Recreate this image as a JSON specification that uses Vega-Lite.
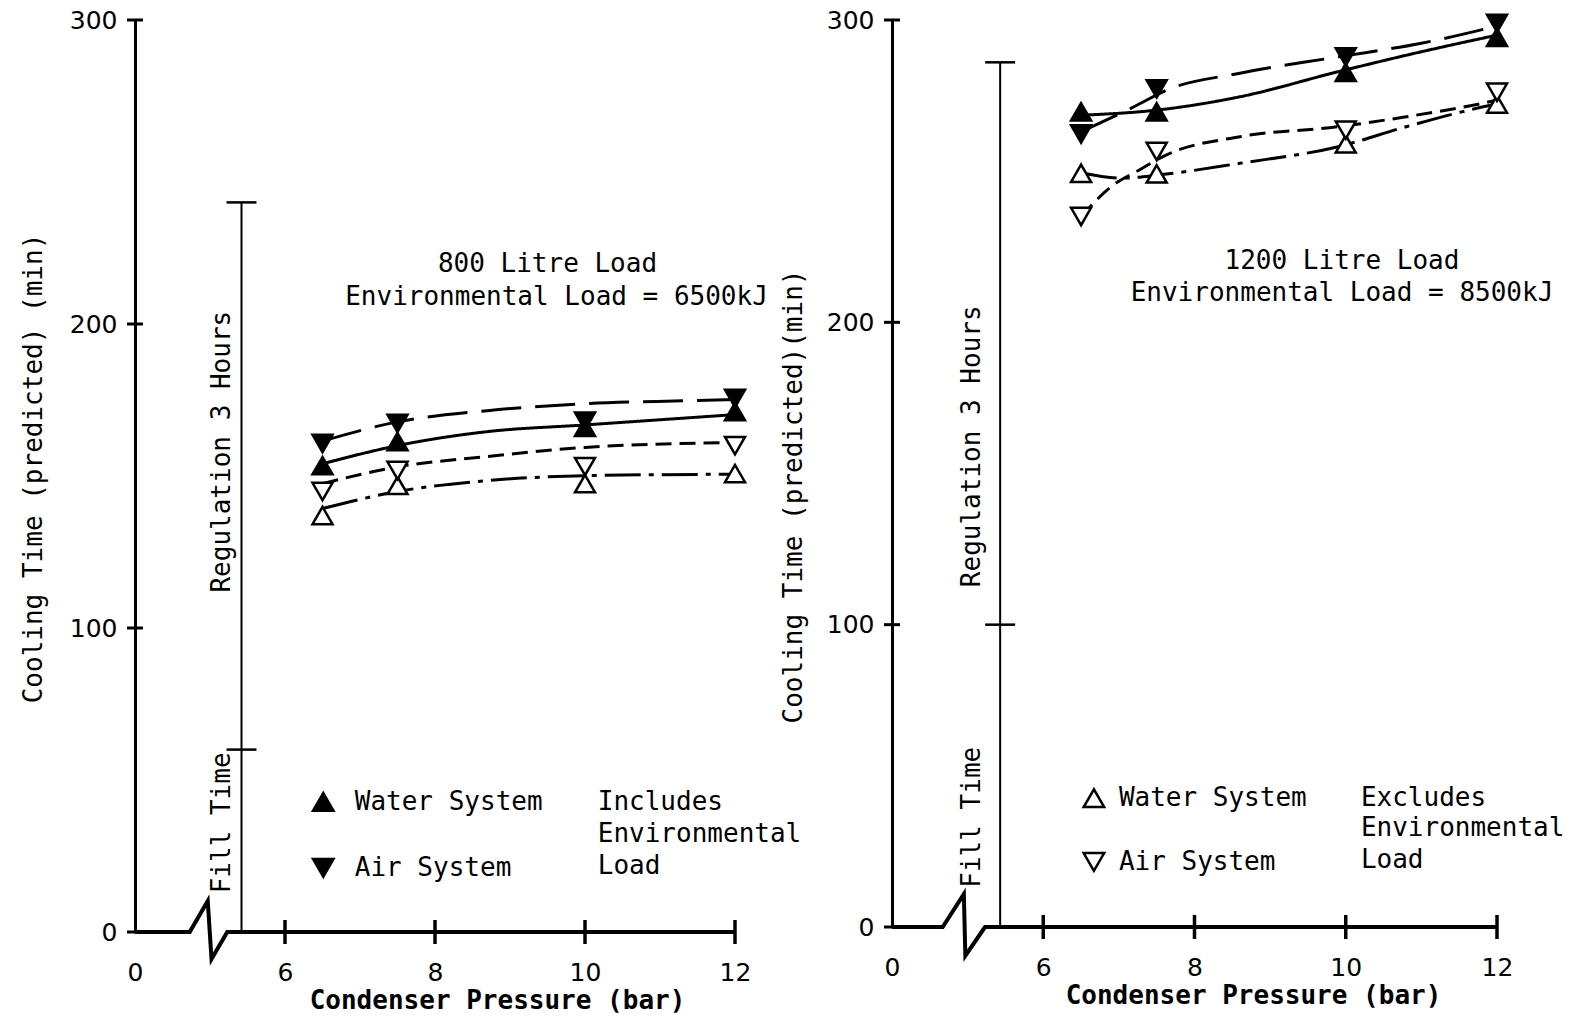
{
  "$schema": "https://vega.github.io/schema/vega-lite/v6.json",
  "background": "white",
  "padding": {"left": 20, "top": 8, "right": 5, "bottom": 0},
  "spacing": 157,
  "bounds": "flush",
  "config": {
    "view": {"stroke": null},
    "axis": {"grid": false, "labelColor": "black", "titleColor": "black"}
  },
  "datasets": {
    "curves": [
      {"panel": "L", "series": "Air incl", "p": 6.5, "t": 161.5},
      {"panel": "L", "series": "Air incl", "p": 7.5, "t": 167.8},
      {"panel": "L", "series": "Air incl", "p": 8.7, "t": 171.5},
      {"panel": "L", "series": "Air incl", "p": 10, "t": 173.8},
      {"panel": "L", "series": "Air incl", "p": 11.4, "t": 174.8},
      {"panel": "L", "series": "Air incl", "p": 12, "t": 175.2},
      {"panel": "L", "series": "Water incl", "p": 6.5, "t": 154},
      {"panel": "L", "series": "Water incl", "p": 7.5, "t": 160},
      {"panel": "L", "series": "Water incl", "p": 8.7, "t": 164.6},
      {"panel": "L", "series": "Water incl", "p": 10, "t": 166.8},
      {"panel": "L", "series": "Water incl", "p": 12, "t": 170.2},
      {"panel": "L", "series": "Air excl", "p": 6.5, "t": 147.5},
      {"panel": "L", "series": "Air excl", "p": 7.5, "t": 153},
      {"panel": "L", "series": "Air excl", "p": 8.7, "t": 156.4},
      {"panel": "L", "series": "Air excl", "p": 10, "t": 159.4},
      {"panel": "L", "series": "Air excl", "p": 12, "t": 161},
      {"panel": "L", "series": "Water excl", "p": 6.5, "t": 139.3},
      {"panel": "L", "series": "Water excl", "p": 7.5, "t": 144.9},
      {"panel": "L", "series": "Water excl", "p": 8.7, "t": 148.5},
      {"panel": "L", "series": "Water excl", "p": 10, "t": 150.1},
      {"panel": "L", "series": "Water excl", "p": 12, "t": 150.6},
      {"panel": "R", "series": "Air incl", "p": 6.5, "t": 263},
      {"panel": "R", "series": "Air incl", "p": 7.2, "t": 271.3},
      {"panel": "R", "series": "Air incl", "p": 7.63, "t": 276.8},
      {"panel": "R", "series": "Air incl", "p": 8.6, "t": 282.4},
      {"panel": "R", "series": "Air incl", "p": 9.9, "t": 287.8},
      {"panel": "R", "series": "Air incl", "p": 11, "t": 292.3},
      {"panel": "R", "series": "Air incl", "p": 12, "t": 298},
      {"panel": "R", "series": "Water incl", "p": 6.5, "t": 268.5},
      {"panel": "R", "series": "Water incl", "p": 7.5, "t": 270.2},
      {"panel": "R", "series": "Water incl", "p": 8.6, "t": 274.6},
      {"panel": "R", "series": "Water incl", "p": 9.9, "t": 282.9},
      {"panel": "R", "series": "Water incl", "p": 11, "t": 289.5},
      {"panel": "R", "series": "Water incl", "p": 12, "t": 295},
      {"panel": "R", "series": "Air excl", "p": 6.5, "t": 235},
      {"panel": "R", "series": "Air excl", "p": 6.9, "t": 244.9},
      {"panel": "R", "series": "Air excl", "p": 7.27, "t": 250.4},
      {"panel": "R", "series": "Air excl", "p": 7.63, "t": 255.4},
      {"panel": "R", "series": "Air excl", "p": 8.6, "t": 261.4},
      {"panel": "R", "series": "Air excl", "p": 9.9, "t": 264.7},
      {"panel": "R", "series": "Air excl", "p": 10.8, "t": 268},
      {"panel": "R", "series": "Air excl", "p": 11.7, "t": 271.9},
      {"panel": "R", "series": "Air excl", "p": 12, "t": 273.5},
      {"panel": "R", "series": "Water excl", "p": 6.5, "t": 249.5},
      {"panel": "R", "series": "Water excl", "p": 7.05, "t": 247.7},
      {"panel": "R", "series": "Water excl", "p": 7.54, "t": 248.8},
      {"panel": "R", "series": "Water excl", "p": 8.6, "t": 252.6},
      {"panel": "R", "series": "Water excl", "p": 9.9, "t": 258.1},
      {"panel": "R", "series": "Water excl", "p": 10.8, "t": 264.7},
      {"panel": "R", "series": "Water excl", "p": 11.9, "t": 271.7},
      {"panel": "R", "series": "Water excl", "p": 12, "t": 272.2}
    ],
    "points": [
      {"panel": "L", "series": "Water incl", "p": 6.5, "t": 153.4},
      {"panel": "L", "series": "Water incl", "p": 7.5, "t": 161.3},
      {"panel": "L", "series": "Water incl", "p": 10, "t": 166},
      {"panel": "L", "series": "Water incl", "p": 12, "t": 171.2},
      {"panel": "L", "series": "Air incl", "p": 6.5, "t": 160.7},
      {"panel": "L", "series": "Air incl", "p": 7.5, "t": 167.3},
      {"panel": "L", "series": "Air incl", "p": 10, "t": 168},
      {"panel": "L", "series": "Air incl", "p": 12, "t": 175.5},
      {"panel": "L", "series": "Water excl", "p": 6.5, "t": 137},
      {"panel": "L", "series": "Water excl", "p": 7.5, "t": 146.9},
      {"panel": "L", "series": "Water excl", "p": 10, "t": 147.5},
      {"panel": "L", "series": "Water excl", "p": 12, "t": 150.8},
      {"panel": "L", "series": "Air excl", "p": 6.5, "t": 144.9},
      {"panel": "L", "series": "Air excl", "p": 7.5, "t": 151.8},
      {"panel": "L", "series": "Air excl", "p": 10, "t": 153.1},
      {"panel": "L", "series": "Air excl", "p": 12, "t": 160},
      {"panel": "R", "series": "Water incl", "p": 6.5, "t": 269.6},
      {"panel": "R", "series": "Water incl", "p": 7.5, "t": 269.6},
      {"panel": "R", "series": "Water incl", "p": 10, "t": 282.7},
      {"panel": "R", "series": "Water incl", "p": 12, "t": 294.3},
      {"panel": "R", "series": "Air incl", "p": 6.5, "t": 262.3},
      {"panel": "R", "series": "Air incl", "p": 7.5, "t": 277.2},
      {"panel": "R", "series": "Air incl", "p": 10, "t": 287.8},
      {"panel": "R", "series": "Air incl", "p": 12, "t": 298.9},
      {"panel": "R", "series": "Water excl", "p": 6.5, "t": 249.3},
      {"panel": "R", "series": "Water excl", "p": 7.5, "t": 249.1},
      {"panel": "R", "series": "Water excl", "p": 10, "t": 259},
      {"panel": "R", "series": "Water excl", "p": 12, "t": 272.2},
      {"panel": "R", "series": "Air excl", "p": 6.5, "t": 235},
      {"panel": "R", "series": "Air excl", "p": 7.5, "t": 256.5},
      {"panel": "R", "series": "Air excl", "p": 10, "t": 263.6},
      {"panel": "R", "series": "Air excl", "p": 12, "t": 276.1}
    ],
    "zero": [
      {"panel": "L", "o": 1, "p": 4, "t": 0},
      {"panel": "L", "o": 2, "p": 4.73, "t": 0},
      {"panel": "L", "o": 3, "p": 4.97, "t": 10.2},
      {"panel": "L", "o": 4, "p": 5.02, "t": -8.9},
      {"panel": "L", "o": 5, "p": 5.23, "t": 0},
      {"panel": "L", "o": 6, "p": 12, "t": 0},
      {"panel": "R", "o": 1, "p": 4, "t": 0},
      {"panel": "R", "o": 2, "p": 4.67, "t": 0},
      {"panel": "R", "o": 3, "p": 4.95, "t": 10.9},
      {"panel": "R", "o": 4, "p": 4.97, "t": -9.5},
      {"panel": "R", "o": 5, "p": 5.23, "t": 0},
      {"panel": "R", "o": 6, "p": 12, "t": 0}
    ],
    "reg": [
      {"panel": "L", "p": 5.42, "t": 0, "t2": 240},
      {"panel": "R", "p": 5.43, "t": 0, "t2": 286}
    ],
    "regcaps": [
      {"panel": "L", "p": 5.42, "t": 60},
      {"panel": "L", "p": 5.42, "t": 240},
      {"panel": "R", "p": 5.43, "t": 100},
      {"panel": "R", "p": 5.43, "t": 286}
    ],
    "xticks": [
      {"p": 6, "t": 0}, {"p": 8, "t": 0}, {"p": 10, "t": 0}, {"p": 12, "t": 0}
    ],
    "yticks": [
      {"p": 4, "t": 0}, {"p": 4, "t": 100}, {"p": 4, "t": 200}, {"p": 4, "t": 300}
    ],
    "titles": [
      {"panel": "L", "p": 9.5, "t": 219.6, "text": "800 Litre Load"},
      {"panel": "L", "p": 9.62, "t": 208.8, "text": "Environmental Load = 6500kJ"},
      {"panel": "R", "p": 9.95, "t": 220.3, "text": "1200 Litre Load"},
      {"panel": "R", "p": 9.95, "t": 209.8, "text": "Environmental Load = 8500kJ"}
    ],
    "vlabels": [
      {"panel": "L", "p": 5.16, "t": 158, "text": "Regulation 3 Hours"},
      {"panel": "L", "p": 5.16, "t": 35.9, "text": "Fill Time"},
      {"panel": "R", "p": 5.06, "t": 159, "text": "Regulation 3 Hours"},
      {"panel": "R", "p": 5.06, "t": 36.3, "text": "Fill Time"}
    ],
    "legendText": [
      {"panel": "L", "p": 6.93, "t": 42.8, "text": "Water System"},
      {"panel": "L", "p": 6.93, "t": 21.1, "text": "Air System"},
      {"panel": "L", "p": 10.17, "t": 42.8, "text": "Includes"},
      {"panel": "L", "p": 10.17, "t": 32.3, "text": "Environmental"},
      {"panel": "L", "p": 10.17, "t": 21.7, "text": "Load"},
      {"panel": "R", "p": 7.0, "t": 42.6, "text": "Water System"},
      {"panel": "R", "p": 7.0, "t": 21.5, "text": "Air System"},
      {"panel": "R", "p": 10.2, "t": 42.6, "text": "Excludes"},
      {"panel": "R", "p": 10.2, "t": 32.7, "text": "Environmental"},
      {"panel": "R", "p": 10.2, "t": 22.1, "text": "Load"}
    ],
    "legendSym": [
      {"panel": "L", "series": "Water incl", "p": 6.51, "t": 42.8},
      {"panel": "L", "series": "Air incl", "p": 6.51, "t": 21.1},
      {"panel": "R", "series": "Water excl", "p": 6.67, "t": 42.6},
      {"panel": "R", "series": "Air excl", "p": 6.67, "t": 21.5}
    ]
  },
  "hconcat": [
    {
      "width": 600,
      "height": 912,
      "encoding": {
        "x": {"field": "p", "type": "quantitative",
          "scale": {"domain": [4, 12], "nice": false, "zero": false},
          "axis": {"title": "Condenser Pressure (bar)", "values": [4, 6, 8, 10, 12],
            "labelExpr": "datum.value == 4 ? '0' : datum.label",
            "domain": false, "ticks": false, "tickSize": 0, "labelPadding": 28, "labelFlush": false,
            "labelFont": "DejaVu Sans", "labelFontSize": 25,
            "titleFont": "DejaVu Sans Mono", "titleFontSize": 26, "titleFontWeight": "bold",
            "titleX": 362, "titleY": 68, "titleBaseline": "middle", "titleAlign": "center", "titleAnchor": null}},
        "y": {"field": "t", "type": "quantitative",
          "scale": {"domain": [0, 300], "nice": false, "zero": false},
          "axis": {"title": "Cooling Time (predicted) (min)", "values": [0, 100, 200, 300],
            "domain": true, "domainWidth": 3, "domainColor": "black", "ticks": false, "tickSize": 0,
            "labelPadding": 18, "labelFont": "DejaVu Sans", "labelFontSize": 25, "labelFlush": false,
            "titleFont": "DejaVu Sans Mono", "titleFontSize": 26, "titleFontWeight": "normal",
            "titleX": -102, "titleY": 448, "titleBaseline": "middle", "titleAlign": "center", "titleAnchor": null}}
      },
      "layer": [
        {"data": {"name": "zero"}, "transform": [{"filter": "datum.panel == 'L'"}],
          "mark": {"type": "line", "stroke": "black", "strokeWidth": 4, "strokeJoin": "miter"},
          "encoding": {"order": {"field": "o"}}},
        {"data": {"name": "reg"}, "transform": [{"filter": "datum.panel == 'L'"}],
          "mark": {"type": "rule", "stroke": "black", "strokeWidth": 2},
          "encoding": {"y2": {"field": "t2"}}},
        {"data": {"name": "regcaps"}, "transform": [{"filter": "datum.panel == 'L'"}],
          "mark": {"type": "tick", "orient": "horizontal", "size": 30, "thickness": 2.5, "color": "black", "opacity": 1}},
        {"data": {"name": "xticks"},
          "mark": {"type": "tick", "orient": "vertical", "size": 24, "thickness": 3.5, "color": "black", "opacity": 1}},
        {"data": {"name": "yticks"},
          "mark": {"type": "tick", "orient": "horizontal", "size": 16, "thickness": 3, "color": "black", "opacity": 1}},
        {"data": {"name": "curves"}, "transform": [{"filter": "datum.panel == 'L'"}],
          "mark": {"type": "line", "stroke": "black", "strokeWidth": 3, "interpolate": "monotone"},
          "encoding": {"strokeDash": {"field": "series", "type": "nominal", "legend": null,
            "scale": {"domain": ["Water incl", "Air incl", "Water excl", "Air excl"],
              "range": [[1, 0], [40, 14], [36, 8, 5, 8], [16, 8]]}}}},
        {"data": {"name": "points"}, "transform": [{"filter": "datum.panel == 'L'"}],
          "mark": {"type": "point", "filled": true, "stroke": "black", "strokeWidth": 2.5, "size": 400, "opacity": 1},
          "encoding": {
            "shape": {"field": "series", "type": "nominal", "legend": null,
              "scale": {"domain": ["Water incl", "Air incl", "Water excl", "Air excl"],
                "range": ["triangle-up", "triangle-down", "triangle-up", "triangle-down"]}},
            "fill": {"field": "series", "type": "nominal", "legend": null,
              "scale": {"domain": ["Water incl", "Air incl", "Water excl", "Air excl"],
                "range": ["black", "black", "white", "white"]}}}},
        {"data": {"name": "legendSym"}, "transform": [{"filter": "datum.panel == 'L'"}],
          "mark": {"type": "point", "filled": true, "stroke": "black", "strokeWidth": 2.5, "size": 420, "opacity": 1},
          "encoding": {
            "shape": {"field": "series", "type": "nominal", "legend": null},
            "fill": {"field": "series", "type": "nominal", "legend": null}}},
        {"data": {"name": "titles"}, "transform": [{"filter": "datum.panel == 'L'"}],
          "mark": {"type": "text", "font": "DejaVu Sans Mono", "fontSize": 26, "align": "center", "baseline": "middle", "color": "black"},
          "encoding": {"text": {"field": "text"}}},
        {"data": {"name": "vlabels"}, "transform": [{"filter": "datum.panel == 'L'"}],
          "mark": {"type": "text", "font": "DejaVu Sans Mono", "fontSize": 26, "align": "center", "baseline": "middle", "angle": 270, "color": "black"},
          "encoding": {"text": {"field": "text"}}},
        {"data": {"name": "legendText"}, "transform": [{"filter": "datum.panel == 'L'"}],
          "mark": {"type": "text", "font": "DejaVu Sans Mono", "fontSize": 26, "align": "left", "baseline": "middle", "color": "black"},
          "encoding": {"text": {"field": "text"}}}
      ]
    },
    {
      "width": 605,
      "height": 907,
      "encoding": {
        "x": {"field": "p", "type": "quantitative",
          "scale": {"domain": [4, 12], "nice": false, "zero": false},
          "axis": {"title": "Condenser Pressure (bar)", "values": [4, 6, 8, 10, 12],
            "labelExpr": "datum.value == 4 ? '0' : datum.label",
            "domain": false, "ticks": false, "tickSize": 0, "labelPadding": 28, "labelFlush": false,
            "labelFont": "DejaVu Sans", "labelFontSize": 25,
            "titleFont": "DejaVu Sans Mono", "titleFontSize": 26, "titleFontWeight": "bold",
            "titleX": 361, "titleY": 68, "titleBaseline": "middle", "titleAlign": "center", "titleAnchor": null}},
        "y": {"field": "t", "type": "quantitative",
          "scale": {"domain": [0, 300], "nice": false, "zero": false},
          "axis": {"title": "Cooling Time (predicted)(min)", "values": [0, 100, 200, 300],
            "domain": true, "domainWidth": 3, "domainColor": "black", "ticks": false, "tickSize": 0,
            "labelPadding": 18, "labelFont": "DejaVu Sans", "labelFontSize": 25, "labelFlush": false,
            "titleFont": "DejaVu Sans Mono", "titleFontSize": 26, "titleFontWeight": "normal",
            "titleX": -99, "titleY": 476, "titleBaseline": "middle", "titleAlign": "center", "titleAnchor": null}}
      },
      "layer": [
        {"data": {"name": "zero"}, "transform": [{"filter": "datum.panel == 'R'"}],
          "mark": {"type": "line", "stroke": "black", "strokeWidth": 4, "strokeJoin": "miter"},
          "encoding": {"order": {"field": "o"}}},
        {"data": {"name": "reg"}, "transform": [{"filter": "datum.panel == 'R'"}],
          "mark": {"type": "rule", "stroke": "black", "strokeWidth": 2},
          "encoding": {"y2": {"field": "t2"}}},
        {"data": {"name": "regcaps"}, "transform": [{"filter": "datum.panel == 'R'"}],
          "mark": {"type": "tick", "orient": "horizontal", "size": 30, "thickness": 2.5, "color": "black", "opacity": 1}},
        {"data": {"name": "xticks"},
          "mark": {"type": "tick", "orient": "vertical", "size": 24, "thickness": 3.5, "color": "black", "opacity": 1}},
        {"data": {"name": "yticks"},
          "mark": {"type": "tick", "orient": "horizontal", "size": 16, "thickness": 3, "color": "black", "opacity": 1}},
        {"data": {"name": "curves"}, "transform": [{"filter": "datum.panel == 'R'"}],
          "mark": {"type": "line", "stroke": "black", "strokeWidth": 3, "interpolate": "monotone"},
          "encoding": {"strokeDash": {"field": "series", "type": "nominal", "legend": null,
            "scale": {"domain": ["Water incl", "Air incl", "Water excl", "Air excl"],
              "range": [[1, 0], [40, 14], [36, 8, 5, 8], [16, 8]]}}}},
        {"data": {"name": "points"}, "transform": [{"filter": "datum.panel == 'R'"}],
          "mark": {"type": "point", "filled": true, "stroke": "black", "strokeWidth": 2.5, "size": 400, "opacity": 1},
          "encoding": {
            "shape": {"field": "series", "type": "nominal", "legend": null,
              "scale": {"domain": ["Water incl", "Air incl", "Water excl", "Air excl"],
                "range": ["triangle-up", "triangle-down", "triangle-up", "triangle-down"]}},
            "fill": {"field": "series", "type": "nominal", "legend": null,
              "scale": {"domain": ["Water incl", "Air incl", "Water excl", "Air excl"],
                "range": ["black", "black", "white", "white"]}}}},
        {"data": {"name": "legendSym"}, "transform": [{"filter": "datum.panel == 'R'"}],
          "mark": {"type": "point", "filled": true, "stroke": "black", "strokeWidth": 2.5, "size": 420, "opacity": 1},
          "encoding": {
            "shape": {"field": "series", "type": "nominal", "legend": null},
            "fill": {"field": "series", "type": "nominal", "legend": null}}},
        {"data": {"name": "titles"}, "transform": [{"filter": "datum.panel == 'R'"}],
          "mark": {"type": "text", "font": "DejaVu Sans Mono", "fontSize": 26, "align": "center", "baseline": "middle", "color": "black"},
          "encoding": {"text": {"field": "text"}}},
        {"data": {"name": "vlabels"}, "transform": [{"filter": "datum.panel == 'R'"}],
          "mark": {"type": "text", "font": "DejaVu Sans Mono", "fontSize": 26, "align": "center", "baseline": "middle", "angle": 270, "color": "black"},
          "encoding": {"text": {"field": "text"}}},
        {"data": {"name": "legendText"}, "transform": [{"filter": "datum.panel == 'R'"}],
          "mark": {"type": "text", "font": "DejaVu Sans Mono", "fontSize": 26, "align": "left", "baseline": "middle", "color": "black"},
          "encoding": {"text": {"field": "text"}}}
      ]
    }
  ]
}
